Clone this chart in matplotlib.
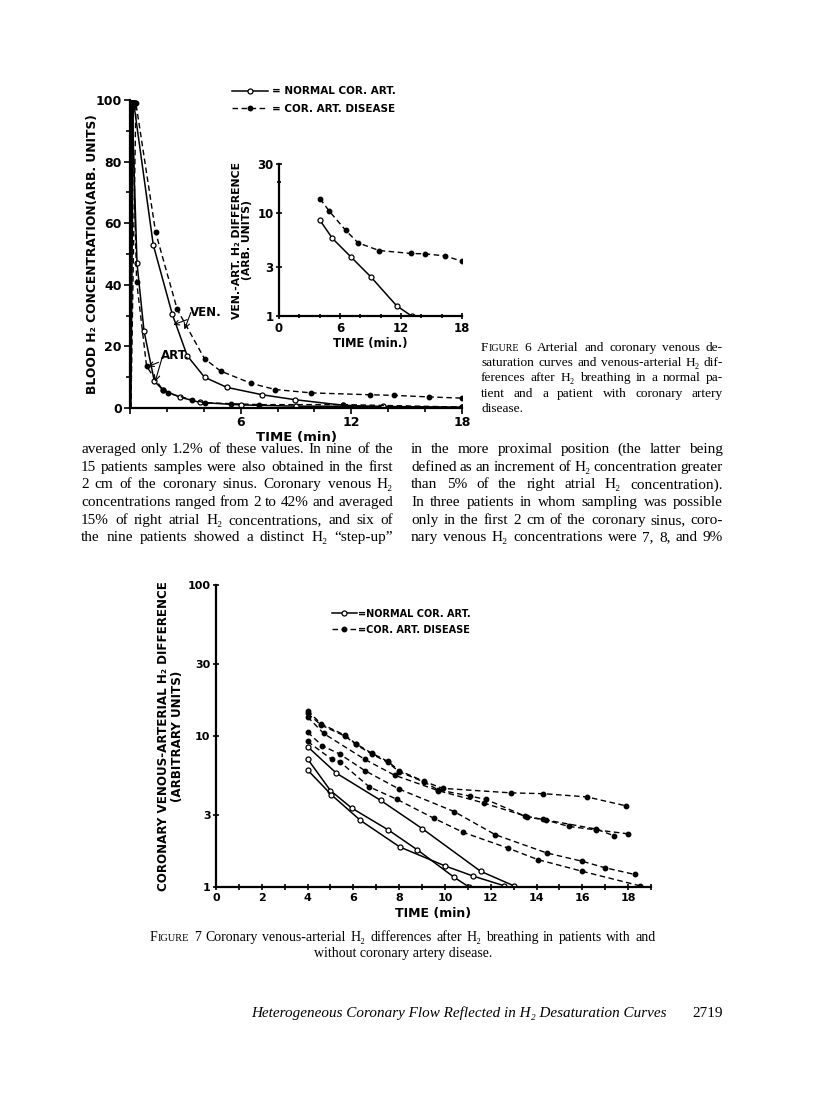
import matplotlib.pyplot as plt
from matplotlib.lines import Line2D
from matplotlib.ticker import FixedLocator, NullFormatter

W, H = 816, 1100

# ---- Figure 6: blood H2 desaturation curves (arb. units) ----
ven_norm_t = [0.05, 0.18, 1.26, 2.29, 3.1, 4.04, 5.25, 7.17, 8.94, 11.55, 13.7, 18.0]
ven_norm_y = [0, 100, 53, 30.5, 17, 10, 6.7, 4.3, 2.7, 0.9, 0.4, 0.2]
ven_dis_t = [0.05, 0.32, 1.39, 2.56, 4.04, 4.91, 6.57, 7.87, 9.84, 13.03, 14.3, 16.2, 18.0]
ven_dis_y = [0, 99, 57, 32, 16, 12, 8, 6, 4.9, 4.3, 4.1, 3.6, 3.2]
art_norm_t = [0.02, 0.1, 0.38, 0.76, 1.32, 1.8, 2.71, 3.8, 6.0, 9.0, 13.7, 18.0]
art_norm_y = [0, 100, 47, 25, 8.7, 5.8, 3.5, 1.8, 1.0, 0.6, 0.5, 0.2]
art_dis_t = [0.02, 0.12, 0.36, 0.9, 1.77, 2.08, 3.34, 4.06, 5.5, 7.0, 11.55, 18.0]
art_dis_y = [0, 100, 41, 13.5, 5.9, 4.8, 2.7, 1.7, 1.4, 1.1, 1.1, 0.3]

# inset: venous-arterial difference
ins_norm_t = [4.0, 5.26, 7.1, 9.0, 11.56, 13.04]
ins_norm_y = [8.6, 5.67, 3.73, 2.42, 1.26, 1.0]
ins_dis_t = [4.04, 4.96, 6.57, 7.78, 9.85, 13.0, 14.35, 16.3, 18.0]
ins_dis_y = [13.8, 10.4, 6.78, 5.14, 4.33, 4.05, 4.02, 3.84, 3.41]

# ---- Figure 7: coronary venous-arterial differences ----
norm_curves = [
    ([4.0, 5.26, 7.2, 9.0, 11.56, 13.0], [8.5, 5.67, 3.74, 2.44, 1.27, 1.02]),
    ([4.0, 5.0, 5.93, 7.52, 8.8, 10.4, 11.05], [7.05, 4.35, 3.33, 2.39, 1.76, 1.16, 1.0]),
    ([4.0, 5.04, 6.31, 8.03, 10.0, 11.24, 12.58], [5.96, 4.08, 2.76, 1.84, 1.38, 1.18, 1.02]),
]
dis_curves = [
    ([4.0, 4.6, 5.65, 6.1, 6.8, 7.5, 8.0, 9.1, 9.9, 12.9, 14.3, 16.2, 17.9],
     [14.7, 12.0, 10.1, 8.9, 7.7, 6.8, 5.9, 5.0, 4.5, 4.2, 4.15, 3.95, 3.45]),
    ([4.0, 4.6, 5.65, 6.1, 6.8, 7.5, 8.0, 9.1, 9.7, 11.1, 11.8, 13.6, 14.4, 15.4, 16.6, 18.0],
     [14.1, 11.8, 9.95, 8.8, 7.6, 6.7, 5.8, 4.95, 4.4, 4.0, 3.8, 2.9, 2.78, 2.52, 2.39, 2.25]),
    ([4.0, 4.7, 6.5, 7.8, 9.7, 11.7, 13.5, 14.3, 16.6, 17.4],
     [13.4, 10.4, 7.0, 5.5, 4.35, 3.6, 2.95, 2.8, 2.42, 2.18]),
    ([4.0, 4.65, 5.4, 6.5, 8.0, 10.4, 12.2, 14.45, 16.0, 17.0, 18.3],
     [10.6, 8.6, 7.6, 5.9, 4.45, 3.16, 2.22, 1.68, 1.48, 1.34, 1.21]),
    ([4.0, 5.06, 5.4, 6.7, 7.9, 9.5, 10.8, 12.75, 14.05, 16.0, 18.5],
     [9.2, 7.0, 6.77, 4.6, 3.81, 2.86, 2.3, 1.81, 1.52, 1.27, 1.02]),
]

# page text
cap6 = ['FIGURE 6  Arterial and coronary venous de-',
        'saturation curves and venous-arterial H₂ dif-',
        'ferences after H₂ breathing in a normal pa-',
        'tient and a patient with coronary artery',
        'disease.']
left_col = ['averaged only 1.2% of these values. In nine of the',
            '15 patients samples were also obtained in the first',
            '2 cm of the coronary sinus. Coronary venous H₂',
            'concentrations ranged from 2 to 42% and averaged',
            '15% of right atrial H₂ concentrations, and six of',
            'the nine patients showed a distinct H₂ “step-up”']
right_col = ['in the more proximal position (the latter being',
             'defined as an increment of H₂ concentration greater',
             'than 5% of the right atrial H₂ concentration).',
             'In three patients in whom sampling was possible',
             'only in the first 2 cm of the coronary sinus, coro-',
             'nary venous H₂ concentrations were 7, 8, and 9%']
cap7 = ['FIGURE 7  Coronary venous-arterial H₂ differences after H₂ breathing in patients with and',
        'without coronary artery disease.']

SANS = ['DejaVu Sans']
SERIF = ['Liberation Serif', 'DejaVu Serif']

norm_style = dict(color='black', lw=1.1, ls='-', marker='o', ms=3.6, mfc='white', mec='black', mew=0.9)
dis_style = dict(color='black', lw=1.0, ls=(0, (4, 2.5)), marker='o', ms=3.2, mfc='black', mec='black')


def rect(x0, y0, x1, y1):
    return [x0 / W, 1 - y1 / H, (x1 - x0) / W, (y1 - y0) / H]


def ftext(x, y, s, **kw):
    return fig.text(x / W, 1 - y / H, s, **kw)


def justify(line, x0, x1, y, fontsize, **kw):
    # spread the words of one line between x0 and x1 (page pixels);
    # "FIGURE" is set in small capitals
    r = fig.canvas.get_renderer()
    words = []
    for w in line.split():
        parts = [(w[0], fontsize), (w[1:], fontsize * 0.75)] if w == 'FIGURE' else [(w, fontsize)]
        pieces = []
        for s, size in parts:
            t = ftext(0, y, s, va='baseline', fontsize=size, **kw)
            pieces.append((t, t.get_window_extent(r).width))
        words.append(pieces)
    widths = [sum(p[1] for p in pieces) for pieces in words]
    gap = (x1 - x0 - sum(widths)) / max(len(words) - 1, 1)
    x = x0
    for pieces, w in zip(words, widths):
        px = x
        for t, pw in pieces:
            t.set_x(px / W)
            px += pw
        x += w + gap


def style_axes(ax, size=9):
    for s in ['top', 'right']:
        ax.spines[s].set_visible(False)
    for s in ['left', 'bottom']:
        ax.spines[s].set_linewidth(1.6)
    ax.tick_params(which='both', width=1.2, labelsize=size, pad=2)
    for lab in ax.get_xticklabels() + ax.get_yticklabels():
        lab.set_fontweight('bold')
        lab.set_family(SANS)


fig = plt.figure(figsize=(W / 100, H / 100), dpi=100)

# ---------- Figure 6 main ----------
ax = fig.add_axes(rect(130, 100, 462, 408))
ax.plot(ven_norm_t, ven_norm_y, markevery=list(range(1, len(ven_norm_t))), **norm_style)
ax.plot(ven_dis_t, ven_dis_y, markevery=list(range(1, len(ven_dis_t))), **dis_style)
ax.plot(art_norm_t, art_norm_y, markevery=list(range(1, len(art_norm_t))), **norm_style)
ax.plot(art_dis_t, art_dis_y, markevery=list(range(1, len(art_dis_t))), **dis_style)
ax.set_xlim(0, 18)
ax.set_ylim(0, 100)
ax.set_xticks([0, 6, 12, 18])
ax.set_xticklabels(['', '6', '12', '18'])
ax.xaxis.set_minor_locator(FixedLocator(range(0, 19, 2)))
ax.set_yticks([0, 20, 40, 60, 80, 100])
ax.yaxis.set_minor_locator(FixedLocator(range(0, 101, 10)))
ax.tick_params(which='major', length=4, direction='out')
ax.tick_params(which='minor', length=3, direction='out')
style_axes(ax)
ax.set_xlabel('TIME (min)', fontsize=9.5, fontweight='bold', family=SANS, labelpad=1)
ax.set_ylabel('BLOOD H₂ CONCENTRATION(ARB. UNITS)', fontsize=8.8, fontweight='bold', family=SANS)
ax.yaxis.set_label_coords(-0.093, 0.5)
arrow = dict(arrowstyle='->', lw=0.8, color='black', shrinkA=0, shrinkB=0)
ax.annotate('VEN.', xy=(2.35, 27), xytext=(3.25, 31), fontsize=8.5, fontweight='bold',
            family=SANS, va='center', arrowprops=arrow)
ax.annotate('', xy=(2.95, 25.5), xytext=(3.3, 31), arrowprops=arrow)
ax.annotate('ART.', xy=(0.98, 13.5), xytext=(1.7, 17), fontsize=8.5, fontweight='bold',
            family=SANS, va='center', arrowprops=arrow)
ax.annotate('', xy=(1.36, 8.5), xytext=(1.75, 16.5), arrowprops=arrow)

handles = [Line2D([], [], **norm_style), Line2D([], [], **dis_style)]
ax.legend(handles, ['= NORMAL COR. ART.', '= COR. ART. DISEASE'], frameon=False,
          loc='upper left', bbox_to_anchor=(223 / W, 1 - 77 / H),
          bbox_transform=fig.transFigure, handlelength=3.4, handletextpad=0.4,
          labelspacing=0.7, prop=dict(family=SANS, weight='bold', size=7.5))

# ---------- Figure 6 inset ----------
ai = fig.add_axes(rect(279, 164, 462, 316))
ai.patch.set_alpha(0)
ai.plot(ins_norm_t, ins_norm_y, **norm_style)
ai.plot(ins_dis_t, ins_dis_y, **dis_style)
ai.set_yscale('log')
ai.set_xlim(0, 18)
ai.set_ylim(1, 30)
ai.set_xticks([0, 6, 12, 18])
ai.xaxis.set_minor_locator(FixedLocator(range(0, 19, 2)))
ai.set_yticks([1, 3, 10, 30])
ai.set_yticklabels(['1', '3', '10', '30'])
ai.yaxis.set_minor_locator(FixedLocator([20]))
ai.yaxis.set_minor_formatter(NullFormatter())
ai.tick_params(which='major', length=4, direction='inout')
ai.tick_params(which='minor', length=3, direction='inout')
style_axes(ai, 8.5)
ai.set_xlabel('TIME (min.)', fontsize=8.3, fontweight='bold', family=SANS, labelpad=2)
ai.set_ylabel('VEN.-ART. H₂ DIFFERENCE\n(ARB. UNITS)', fontsize=7.8, fontweight='bold',
              family=SANS, linespacing=1.05)
ai.yaxis.set_label_coords(-0.148, 0.5)

# ---------- Figure 7 ----------
a7 = fig.add_axes(rect(216, 585, 651, 887))
for t, v in norm_curves:
    a7.plot(t, v, **norm_style)
for t, v in dis_curves:
    a7.plot(t, v, **dis_style)
a7.set_yscale('log')
a7.set_xlim(0, 19)
a7.set_ylim(1, 100)
a7.set_xticks(range(0, 19, 2))
a7.xaxis.set_minor_locator(FixedLocator(range(0, 20)))
a7.set_yticks([1, 3, 10, 30, 100])
a7.set_yticklabels(['1', '3', '10', '30', '100'])
a7.yaxis.set_minor_locator(FixedLocator([]))
a7.tick_params(which='major', length=4, direction='inout')
a7.tick_params(which='minor', length=4, direction='inout')
style_axes(a7, 8)
a7.set_xlabel('TIME (min)', fontsize=9, fontweight='bold', family=SANS, labelpad=3)
a7.set_ylabel('CORONARY VENOUS-ARTERIAL H₂ DIFFERENCE\n(ARBITRARY UNITS)', fontsize=8.6,
              fontweight='bold', family=SANS, linespacing=1.05)
a7.yaxis.set_label_coords(-0.074, 0.5)
a7.legend(handles, ['=NORMAL COR. ART.', '=COR. ART. DISEASE'], frameon=False,
          loc='upper left', bbox_to_anchor=(323 / W, 1 - 600 / H),
          bbox_transform=fig.transFigure, handlelength=2.6, handletextpad=0.05,
          labelspacing=0.6, prop=dict(family=SANS, weight='bold', size=7))

# ---------- page text ----------
for i, line in enumerate(cap6):
    y = 351 + i * 15.2
    if i < len(cap6) - 1:
        justify(line, 481, 723, y, 9.6, family=SERIF)
    else:
        ftext(481, y, line, fontsize=9.6, family=SERIF, va='baseline')

for i, (a, b) in enumerate(zip(left_col, right_col)):
    y = 453 + i * 17.7
    justify(a, 81, 393, y, 11, family=SERIF)
    justify(b, 411, 723, y, 11, family=SERIF)

justify(cap7[0], 150, 656, 941, 10, family=SERIF)
ftext(403, 957, cap7[1], fontsize=10, family=SERIF, va='baseline', ha='center')

ftext(251, 1017, 'Heterogeneous Coronary Flow Reflected in H₂ Desaturation Curves',
      fontsize=10.9, family=SERIF, style='italic', va='baseline')
ftext(723, 1017, '2719', fontsize=11, family=SERIF, va='baseline', ha='right')

fig.savefig('out.png', dpi=100)
